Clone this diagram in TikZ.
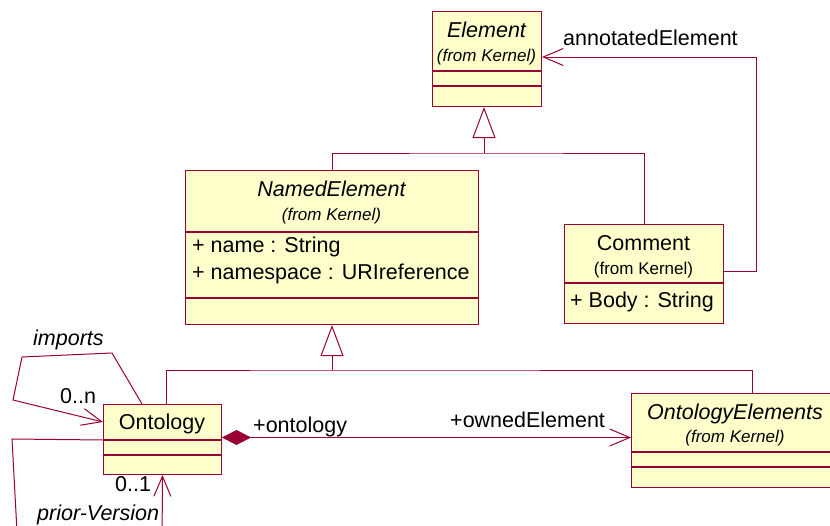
\documentclass[tikz,border=0pt]{standalone}
\usepackage{fontspec}
\setmainfont{Liberation Sans}
\usetikzlibrary{arrows.meta,positioning}
\definecolor{umlline}{RGB}{153,0,51}
\definecolor{umlfill}{RGB}{255,255,204}
\newcommand{\bigtxt}{\fontsize{21.5}{25}\selectfont}
\newcommand{\smalltxt}{\fontsize{17}{20}\selectfont}
\begin{document}
\begin{tikzpicture}[x=1pt, y=-1pt,
  part/.style={draw=umlline, fill=umlfill, line width=1pt, inner sep=0pt, anchor=north west},
  txt/.style={inner sep=0pt, anchor=base, font=\bigtxt},
  from/.style={inner sep=0pt, anchor=base, font=\smalltxt},
  link/.style={draw=umlline, line width=1pt},
  assoc/.style={link, -{Straight Barb[length=20pt, width=17pt]}},
  gen/.style={link, -{Triangle[open, length=31pt, width=23pt]}},
  comp/.style={link, {Diamond[length=29pt, width=15pt, fill=umlline]}-{Straight Barb[length=20pt, width=17pt]}}]
  \useasboundingbox (0,0) rectangle (830,525);
  \clip (0,0) rectangle (830,525);
  % Element
  \node (element) [part, minimum width=109pt, minimum height=59pt] at (432,11) {};
  \node (element_attr) [part, minimum width=109pt, minimum height=14pt] at (element.south west) {};
  \node (element_oper) [part, minimum width=109pt, minimum height=20pt] at (element_attr.south west) {};
  \node (element_title) [txt, font=\bigtxt\itshape] at (486.5,37) {Element};
  \node (element_from) [from, font=\smalltxt\itshape] at (486.5,61) {(from Kernel)};
  % NamedElement
  \node (named) [part, minimum width=293pt, minimum height=61pt] at (185,170) {};
  \node (named_attr) [part, minimum width=293pt, minimum height=65pt] at (named.south west) {};
  \node (named_oper) [part, minimum width=293pt, minimum height=26pt] at (named_attr.south west) {};
  \node (named_title) [txt, font=\bigtxt\itshape] at (331.5,196) {NamedElement};
  \node (named_from) [from, font=\smalltxt\itshape] at (331.5,220) {(from Kernel)};
  \node (named_name) [txt, anchor=base west] at (192,252) {+ name : String};
  \node (named_space) [txt, anchor=base west] at (192,279) {+ namespace : URIreference};
  % Comment
  \node (comment) [part, minimum width=159pt, minimum height=58pt] at (564,224) {};
  \node (comment_attr) [part, minimum width=159pt, minimum height=40pt] at (comment.south west) {};
  \node (comment_title) [txt] at (643.5,250) {Comment};
  \node (comment_from) [from] at (643.5,274) {(from Kernel)};
  \node (comment_body) [txt, anchor=base west] at (570,307) {+ Body : String};
  % Ontology
  \node (ontology) [part, minimum width=118pt, minimum height=35pt] at (103,404) {};
  \node (ontology_attr) [part, minimum width=118pt, minimum height=14pt] at (ontology.south west) {};
  \node (ontology_oper) [part, minimum width=118pt, minimum height=19pt] at (ontology_attr.south west) {};
  \node (ontology_title) [txt] at (162,429) {Ontology};
  % OntologyElements
  \node (elements) [part, minimum width=208pt, minimum height=58pt] at (631,393) {};
  \node (elements_attr) [part, minimum width=208pt, minimum height=14pt] at (elements.south west) {};
  \node (elements_oper) [part, minimum width=208pt, minimum height=20pt] at (elements_attr.south west) {};
  \node (elements_title) [txt, font=\bigtxt\itshape] at (735,419) {OntologyElements};
  \node (elements_from) [from, font=\smalltxt\itshape] at (735,442) {(from Kernel)};
  % generalizations
  \coordinate (gen_top) at (484,153);
  \coordinate (gen_low) at (332,370);
  \draw [link] (named.north) |- (gen_top) -| (comment.north);
  \draw [gen] (gen_top) -- (gen_top |- element_oper.south);
  \draw [link] ([xshift=4pt]ontology.north) |- (gen_low) -| ([xshift=17pt]elements.north);
  \draw [gen] (gen_low) -- (gen_low |- named_oper.south);
  % annotatedElement
  \coordinate (annot_low) at (756,271);
  \coordinate (annot_high) at (756,57);
  \draw [assoc] (comment.east |- annot_low) -- (annot_low) -- (annot_high) -- (element.east |- annot_high);
  \node (annot_label) [txt, anchor=base west] at (563,45) {annotatedElement};
  % composition
  \coordinate (own_y) at (0,437.5);
  \draw [comp] (ontology.east |- own_y) -- (elements.west |- own_y);
  \node (onto_label) [txt, anchor=base west] at (253,432) {+ontology};
  \node (owned_label) [txt, anchor=base west] at (450,427) {+ownedElement};
  % imports
  \draw [assoc] ([xshift=39pt]ontology.north west) -- (112,353) -- (22,357) -- (13,400) -- (ontology.west);
  \node (imports_label) [txt, anchor=base west, font=\bigtxt\itshape] at (33,345) {imports};
  \node (imports_mult) [txt, anchor=base west] at (60,403) {0..n};
  % prior-Version
  \draw [assoc] (ontology.south west) -- (12,439) -- (18,550) -- (162,550) -- (ontology_oper.south);
  \node (prior_mult) [txt, anchor=base west] at (115,491) {0..1};
  \node (prior_label) [txt, anchor=base west, font=\bigtxt\itshape] at (37,520) {prior-Version};
\end{tikzpicture}
\end{document}
